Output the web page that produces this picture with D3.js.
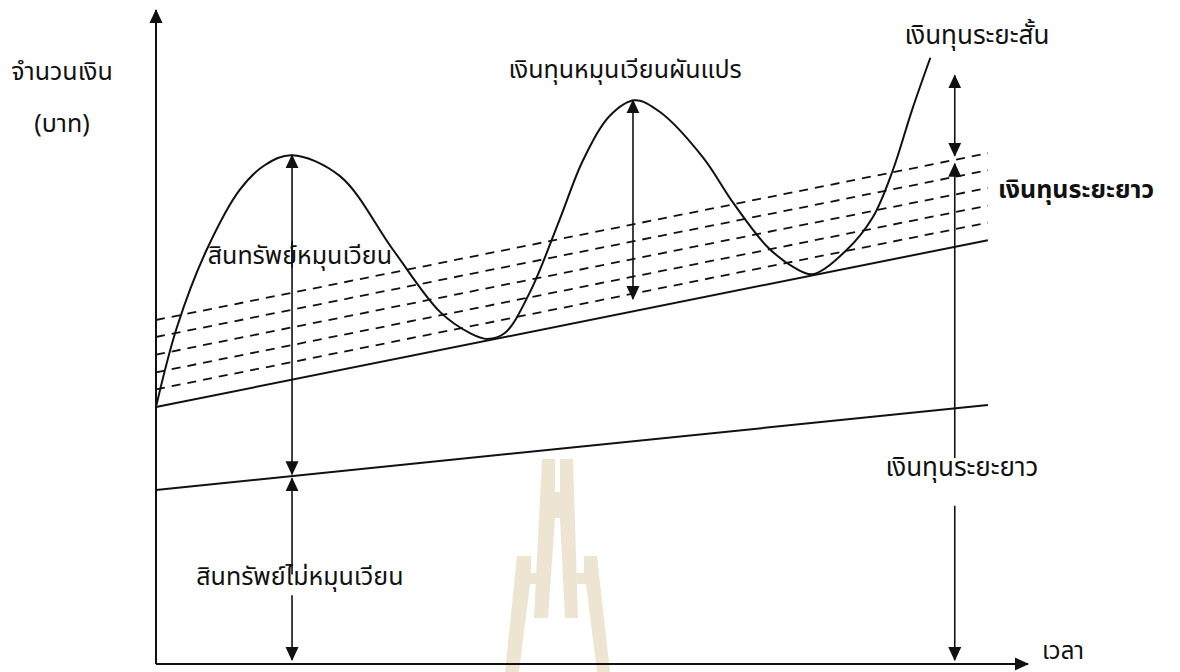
<!DOCTYPE html>
<html>
<head>
<meta charset="utf-8">
<script src="https://cdn.jsdelivr.net/npm/d3@7"></script>
<style>
  body { margin: 0; background: #fff; }
  svg text { font-family: "Noto Sans Thai", "Noto Sans", "Noto Sans CJK SC", sans-serif; fill: #111; }
</style>
</head>
<body>
<div id="chart"></div>
<script>
// time axis: 0..10, money axis: 0..100 (arbitrary units)
var curveTime   = [0, 0.24, 0.58, 0.96, 1.25, 1.56, 2.11, 2.72, 3.26, 3.60, 3.80, 4.00, 4.29, 4.63, 4.90, 5.21, 5.49, 5.78, 6.27, 6.62, 7.01, 7.31, 7.53, 7.92, 8.22, 8.45, 8.67, 8.88];
var curveAmount = [39.3, 51.5, 63.3, 72.5, 76.3, 77.8, 74.6, 63.3, 53.8, 50.6, 49.7, 50.6, 56.9, 68.0, 77.1, 83.9, 86.2, 84.4, 77.5, 70.5, 63.8, 60.7, 59.6, 63.3, 68.3, 75.5, 84.7, 92.7];

var lineTime = [0, 9.54];
var nonCurrentAmount = [26.6, 39.6];   // สินทรัพย์ไม่หมุนเวียน
var permanentAmount  = [39.3, 64.8];   // ระดับสินทรัพย์ถาวร + หมุนเวียนขั้นต่ำ
var dashedStart = [42.0, 44.6, 47.3, 50.0, 52.6];
var dashedEnd   = [67.5, 70.1, 72.8, 75.5, 78.1];

// vertical double arrows (split where a label sits on them)
var arrowTime  = [1.56, 1.56, 1.56, 1.56, 5.47, 9.16, 9.16, 9.16];
var arrowFrom  = [77.8, 64.7, 28.4, 10.5, 86.2, 90.0, 76.5, 24.2];
var arrowTo    = [60.6, 29.0, 13.7, 0.6, 55.8, 77.7, 31.5, 0.6];
var arrowHeadA = [1, 0, 1, 0, 1, 1, 1, 0];
var arrowHeadB = [0, 1, 0, 1, 1, 1, 0, 1];

var yTitle = ["จำนวนเงิน", "(บาท)"];
var xTitle = "เวลา";
var labelText = ["เงินทุนหมุนเวียนผันแปร", "เงินทุนระยะสั้น", "เงินทุนระยะยาว", "สินทรัพย์หมุนเวียน", "สินทรัพย์ไม่หมุนเวียน", "เงินทุนระยะยาว"];

var width = 1180, height = 672;
var svg = d3.select("#chart").append("svg")
    .attr("width", width)
    .attr("height", height);

var x = d3.scaleLinear().domain([0, 10]).range([156, 1028]);
var y = d3.scaleLinear().domain([0, 100]).range([664, 10]);

var defs = svg.append("defs");
defs.append("marker")
    .attr("id", "head")
    .attr("markerUnits", "userSpaceOnUse")
    .attr("viewBox", "0 -7 14 14")
    .attr("refX", 13).attr("refY", 0)
    .attr("markerWidth", 14).attr("markerHeight", 14)
    .attr("orient", "auto-start-reverse")
  .append("path")
    .attr("d", "M0,-6.5L14,0L0,6.5Z")
    .attr("fill", "#111");

// watermark logo (faint)
var wm = svg.append("g").attr("fill", "#ede4d2");
wm.append("path").attr("d", "M542,459L555,459L555,492L560,492L560,459L573,459L578,618L565,618L560,518L555,518L548,618L534,618Z");
wm.append("path").attr("d", "M517,556L531,556L531,573L538,573L537,584L530,584L519,672L505,672Z");
wm.append("path").attr("d", "M584,556L597,556L610,672L597,672L586,584L577,584L576,573L584,573Z");

// axes
svg.append("line")
    .attr("x1", x(0)).attr("y1", y(0))
    .attr("x2", x(0)).attr("y2", y(100))
    .attr("stroke", "#111").attr("stroke-width", 2)
    .attr("marker-end", "url(#head)");
svg.append("line")
    .attr("x1", x(0)).attr("y1", y(0))
    .attr("x2", x(10)).attr("y2", y(0))
    .attr("stroke", "#111").attr("stroke-width", 2)
    .attr("marker-end", "url(#head)");

var straight = d3.line()
    .x(function(d) { return x(d[0]); })
    .y(function(d) { return y(d[1]); });

// dashed levels
dashedStart.forEach(function(v, i) {
  svg.append("path")
      .datum([[lineTime[0], v], [lineTime[1], dashedEnd[i]]])
      .attr("d", straight)
      .attr("fill", "none")
      .attr("stroke", "#111").attr("stroke-width", 1.8)
      .attr("stroke-dasharray", "9,7");
});

svg.append("path")
    .datum(lineTime.map(function(t, i) { return [t, nonCurrentAmount[i]]; }))
    .attr("d", straight)
    .attr("fill", "none").attr("stroke", "#111").attr("stroke-width", 2);

svg.append("path")
    .datum(lineTime.map(function(t, i) { return [t, permanentAmount[i]]; }))
    .attr("d", straight)
    .attr("fill", "none").attr("stroke", "#111").attr("stroke-width", 2);

// total assets curve
var curve = d3.line()
    .x(function(d) { return x(d[0]); })
    .y(function(d) { return y(d[1]); })
    .curve(d3.curveCatmullRom.alpha(0.5));

svg.append("path")
    .datum(curveTime.map(function(t, i) { return [t, curveAmount[i]]; }))
    .attr("d", curve)
    .attr("fill", "none").attr("stroke", "#111").attr("stroke-width", 2);

// arrows
arrowTime.forEach(function(t, i) {
  var l = svg.append("line")
      .attr("x1", x(t)).attr("y1", y(arrowFrom[i]))
      .attr("x2", x(t)).attr("y2", y(arrowTo[i]))
      .attr("stroke", "#111").attr("stroke-width", 1.6);
  if (arrowHeadA[i]) l.attr("marker-start", "url(#head)");
  if (arrowHeadB[i]) l.attr("marker-end", "url(#head)");
});

// texts
function label(txt, px, py, anchor, size, weight) {
  return svg.append("text")
      .attr("x", px).attr("y", py)
      .attr("text-anchor", anchor || "middle")
      .attr("dominant-baseline", "central")
      .style("font-size", (size || 25) + "px")
      .style("font-weight", weight || "normal")
      .text(txt);
}

label(yTitle[0], 62, 72);
label(yTitle[1], 62, 124);
label(xTitle, 1042, 652, "start", 24);

label(labelText[0], x(5.38), 70);
label(labelText[1], 977, 36, "middle", 26);
label(labelText[2], 998, 190, "start", 25, "bold");
label(labelText[3], x(1.65), 256);
label(labelText[4], x(1.65), 577);
label(labelText[5], 962, 468, "middle", 26);
</script>
</body>
</html>
